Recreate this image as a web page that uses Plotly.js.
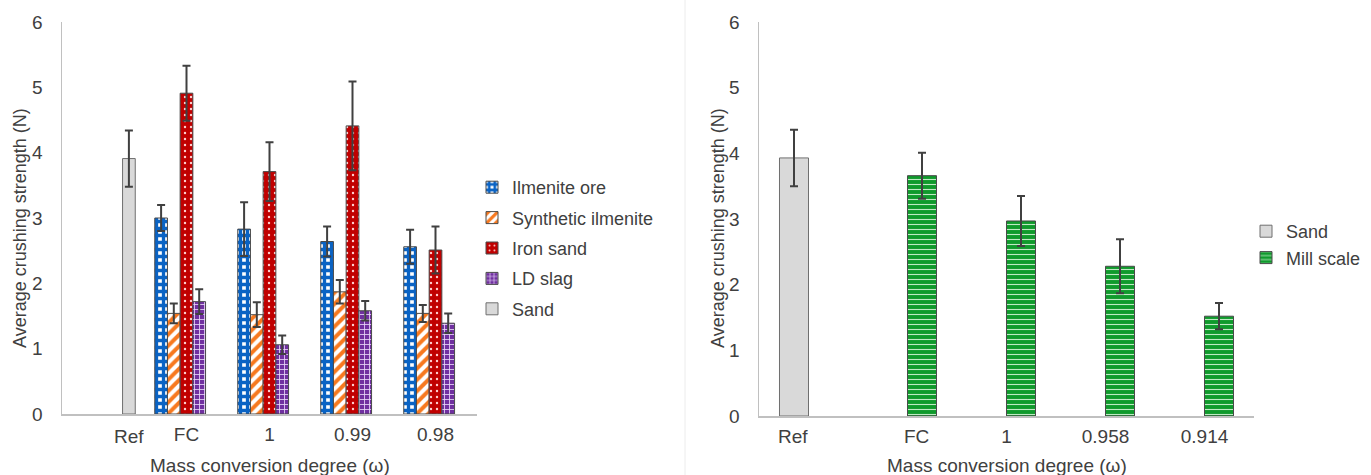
<!DOCTYPE html>
<html>
<head>
<meta charset="utf-8">
<script src="https://cdn.plot.ly/plotly-3.0.1.min.js"></script>
<style>
html,body{margin:0;padding:0;background:#fff;}
#chart{width:1371px;height:475px;}
</style>
</head>
<body>
<div id="chart"></div>
<script>
// ---------- Left chart data ----------
const categoriesLeft = ['Ref', 'FC', '1', '0.99', '0.98'];
const tickLabelsLeft = ['', 'FC', '1', '0.99', '0.98'];
const groupsLeft = ['FC', '1', '0.99', '0.98'];
const ilmeniteOre = [3.00, 2.83, 2.64, 2.56];
const ilmeniteOreErr = [0.20, 0.41, 0.23, 0.26];
const syntheticIlmenite = [1.54, 1.52, 1.87, 1.54];
const syntheticIlmeniteErr = [0.15, 0.19, 0.18, 0.13];
const ironSand = [4.91, 3.71, 4.41, 2.51];
const ironSandErr = [0.42, 0.45, 0.68, 0.36];
const ldSlag = [1.72, 1.06, 1.58, 1.39];
const ldSlagErr = [0.19, 0.14, 0.15, 0.15];
const sandLeftCat = ['Ref'];
const sandLeft = [3.91];
const sandLeftErr = [0.43];

// ---------- Right chart data ----------
const categoriesRight = ['Ref', 'FC', '1', '0.958', '0.914'];
const tickLabelsRight = ['', '', '1', '0.958', '0.914'];
const millGroups = ['FC', '1', '0.958', '0.914'];
const millScale = [3.66, 2.97, 2.28, 1.52];
const millScaleErr = [0.35, 0.38, 0.41, 0.20];
const sandRightCat = ['Ref'];
const sandRight = [3.93];
const sandRightErr = [0.43];

const FONT = 'Liberation Sans, Arial, sans-serif';
const TXT = '#404040';
const OUTLINE = {color: '#4a4a4a', width: 1};

function err(arr) {
  return {type: 'data', array: arr, visible: true, color: '#404040', thickness: 2, width: 4};
}
function pat(shape, fg, bg, size, solidity) {
  return {shape: shape, fgcolor: fg, bgcolor: bg, size: size, solidity: solidity, fillmode: 'replace', fgopacity: 1};
}

const traces = [
  {type: 'bar', name: 'Ilmenite ore', x: groupsLeft, y: ilmeniteOre, error_y: err(ilmeniteOreErr),
   xaxis: 'x', yaxis: 'y', legend: 'legend', legendgroup: 'a',
   marker: {color: '#0a63c4', line: OUTLINE, pattern: pat('+', '#0a63c4', '#ffffff', 7, 0.72)}},
  {type: 'bar', name: 'Synthetic ilmenite', x: groupsLeft, y: syntheticIlmenite, error_y: err(syntheticIlmeniteErr),
   xaxis: 'x', yaxis: 'y', legend: 'legend', legendgroup: 'b',
   marker: {color: '#f7791f', line: OUTLINE, pattern: pat('/', '#f7791f', '#ffffff', 8, 0.5)}},
  {type: 'bar', name: 'Iron sand', x: groupsLeft, y: ironSand, error_y: err(ironSandErr),
   xaxis: 'x', yaxis: 'y', legend: 'legend', legendgroup: 'c',
   marker: {color: '#c00000', line: OUTLINE, pattern: pat('.', '#ffd0d0', '#c00000', 6, 0.12)}},
  {type: 'bar', name: 'LD slag', x: groupsLeft, y: ldSlag, error_y: err(ldSlagErr),
   xaxis: 'x', yaxis: 'y', legend: 'legend', legendgroup: 'd',
   marker: {color: '#7030a0', line: OUTLINE, pattern: pat('+', '#ead9fa', '#7030a0', 5, 0.3)}},
  {type: 'bar', name: 'Sand', x: sandLeftCat, y: sandLeft, error_y: err(sandLeftErr),
   xaxis: 'x', yaxis: 'y', legend: 'legend', legendgroup: 'e',
   marker: {color: '#d9d9d9', line: {color: '#6f6f6f', width: 1}}},
  // right chart
  {type: 'bar', name: 'Sand', x: sandRightCat, y: sandRight, error_y: err(sandRightErr),
   xaxis: 'x2', yaxis: 'y2', legend: 'legend2', width: 0.293, offset: -0.293,
   marker: {color: '#d9d9d9', line: {color: '#6f6f6f', width: 1}}},
  {type: 'bar', name: 'Mill scale', x: millGroups, y: millScale, error_y: err(millScaleErr),
   xaxis: 'x2', yaxis: 'y2', legend: 'legend2', width: 0.293, offset: 0,
   marker: {color: '#0f9a2c', line: OUTLINE, pattern: pat('-', '#bfeac4', '#0f9a2c', 5, 0.22)}}
];

const axisFont = {family: FONT, size: 19, color: TXT};
const baseY = {range: [0, 6], dtick: 1, tick0: 0, showgrid: false, zeroline: false, showline: true,
  linecolor: '#c0c0c0', linewidth: 1.5, ticks: '', tickfont: axisFont, ticklabelstandoff: 14,
  automargin: false, fixedrange: true};
const baseX = {type: 'category', showgrid: false, zeroline: false, showline: true,
  linecolor: '#c0c0c0', linewidth: 1.5, ticks: '', tickfont: axisFont, ticklabelstandoff: 3,
  automargin: false, fixedrange: true, categoryorder: 'array'};
const titleFontX = {family: FONT, size: 19, color: TXT};
const titleFontY = {family: FONT, size: 18, color: TXT};
const LBL_Y = (475 - 424) / 475;

const layout = {
  width: 1371, height: 475,
  margin: {l: 0, r: 0, t: 0, b: 0},
  paper_bgcolor: '#ffffff', plot_bgcolor: 'rgba(0,0,0,0)',
  barmode: 'group', bargap: 0.235, bargroupgap: 0,
  font: {family: FONT, color: TXT},
  showlegend: true,
  xaxis: Object.assign({}, baseX, {domain: [62/1371, 477/1371], anchor: 'y',
    categoryarray: categoriesLeft, tickmode: 'array', tickvals: categoriesLeft, ticktext: tickLabelsLeft}),
  yaxis: Object.assign({}, baseY, {domain: [(475-414)/475, (475-22)/475], anchor: 'x'}),
  xaxis2: Object.assign({}, baseX, {domain: [759/1371, 1254/1371], anchor: 'y2',
    categoryarray: categoriesRight, tickmode: 'array', tickvals: categoriesRight, ticktext: tickLabelsRight}),
  yaxis2: Object.assign({}, baseY, {domain: [(475-416)/475, (475-22)/475], anchor: 'x2'}),
  legend: {x: 472/1371, xanchor: 'left', y: (475-169)/475, yanchor: 'top',
    font: {family: FONT, size: 18, color: TXT}, tracegroupgap: 4, bgcolor: 'rgba(0,0,0,0)',
    itemclick: false, itemdoubleclick: false},
  legend2: {x: 1246/1371, xanchor: 'left', y: (475-213)/475, yanchor: 'top',
    font: {family: FONT, size: 18, color: TXT}, bgcolor: 'rgba(0,0,0,0)',
    itemclick: false, itemdoubleclick: false},
  shapes: [
    {type: 'line', xref: 'paper', yref: 'paper', x0: 685/1371, x1: 685/1371, y0: 0, y1: 1,
     line: {color: '#ececec', width: 1}}
  ],
  annotations: [
    {xref: 'x', yref: 'paper', x: 0.306, y: LBL_Y, xanchor: 'center', yanchor: 'top', showarrow: false,
     text: 'Ref', font: axisFont},
    {xref: 'x2', yref: 'paper', x: -0.157, y: LBL_Y, xanchor: 'center', yanchor: 'top', showarrow: false,
     text: 'Ref', font: axisFont},
    {xref: 'x2', yref: 'paper', x: 1.086, y: LBL_Y, xanchor: 'center', yanchor: 'top', showarrow: false,
     text: 'FC', font: axisFont},
    {xref: 'paper', yref: 'paper', x: 269.5/1371, y: (475-465)/475, xanchor: 'center', yanchor: 'middle', showarrow: false,
     text: 'Mass conversion degree (ω)', font: titleFontX},
    {xref: 'paper', yref: 'paper', x: 1006.5/1371, y: (475-465)/475, xanchor: 'center', yanchor: 'middle', showarrow: false,
     text: 'Mass conversion degree (ω)', font: titleFontX},
    {xref: 'paper', yref: 'paper', x: 20/1371, y: (475-228)/475, xanchor: 'center', yanchor: 'middle', showarrow: false,
     textangle: -90, text: 'Average crushing strength (N)', font: titleFontY},
    {xref: 'paper', yref: 'paper', x: 718/1371, y: (475-228)/475, xanchor: 'center', yanchor: 'middle', showarrow: false,
     textangle: -90, text: 'Average crushing strength (N)', font: titleFontY}
  ]
};

Plotly.newPlot('chart', traces, layout, {staticPlot: true, displayModeBar: false});
</script>
</body>
</html>
